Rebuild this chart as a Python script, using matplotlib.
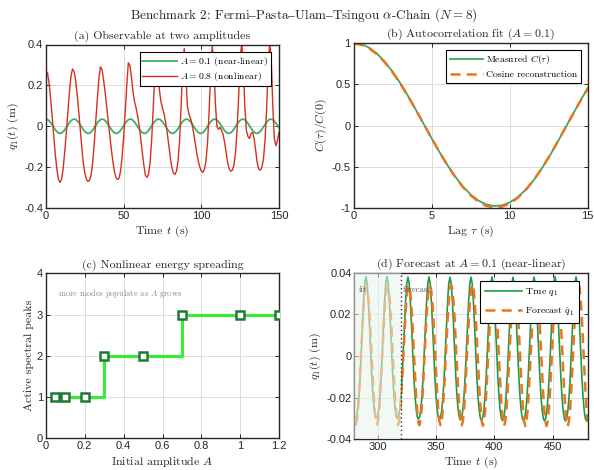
import numpy as np
import matplotlib
matplotlib.use("Agg")
import matplotlib.pyplot as plt
from matplotlib.ticker import FuncFormatter

plt.rcParams["mathtext.fontset"] = "cm"
plt.rcParams["axes.unicode_minus"] = False

SERIF = ["cmr10", "DejaVu Serif"]
SANS = ["Liberation Sans", "DejaVu Sans"]

# ---------------- data ----------------
# (a) q1(t) at two amplitudes
t_lin = np.linspace(0.0, 150.83, 151)
q_lin = [
    0.035, 0.0329, 0.0268, 0.0175, 0.0061, -0.0061, -0.0175, -0.0268, -0.0329,
    -0.035, -0.0329, -0.0268, -0.0175, -0.0061, 0.0061, 0.0175, 0.0268, 0.0329,
    0.035, 0.0329, 0.0268, 0.0175, 0.0061, -0.0061, -0.0175, -0.0268, -0.0329,
    -0.035, -0.0329, -0.0268, -0.0175, -0.0061, 0.0061, 0.0175, 0.0268, 0.0329,
    0.035, 0.0329, 0.0268, 0.0175, 0.0061, -0.0061, -0.0175, -0.0268, -0.0329,
    -0.035, -0.0329, -0.0268, -0.0175, -0.0061, 0.0061, 0.0175, 0.0268, 0.0329,
    0.035, 0.0329, 0.0268, 0.0175, 0.0061, -0.0061, -0.0175, -0.0268, -0.0329,
    -0.035, -0.0329, -0.0268, -0.0175, -0.0061, 0.0061, 0.0175, 0.0268, 0.0329,
    0.035, 0.0329, 0.0268, 0.0175, 0.0061, -0.0061, -0.0175, -0.0268, -0.0329,
    -0.035, -0.0329, -0.0268, -0.0175, -0.0061, 0.0061, 0.0175, 0.0268, 0.0329,
    0.035, 0.0329, 0.0268, 0.0175, 0.0061, -0.0061, -0.0175, -0.0268, -0.0329,
    -0.035, -0.0329, -0.0268, -0.0175, -0.0061, 0.0061, 0.0175, 0.0268, 0.0329,
    0.035, 0.0329, 0.0268, 0.0175, 0.0061, -0.0061, -0.0175, -0.0268, -0.0329,
    -0.035, -0.0329, -0.0268, -0.0175, -0.0061, 0.0061, 0.0175, 0.0268, 0.0329,
    0.035, 0.0329, 0.0268, 0.0175, 0.0061, -0.0061, -0.0175, -0.0268, -0.0329,
    -0.035, -0.0329, -0.0268, -0.0175, -0.0061, 0.0061, 0.0175, 0.0268, 0.0329,
    0.035, 0.0329, 0.0268, 0.0175, 0.0061, -0.0061, -0.0175,
]
t_nl = np.arange(0, 151)
q_nl = [
    0.27, 0.26, 0.21, 0.135, 0.045, -0.05, -0.14, -0.21, -0.26, -0.275,
    -0.26, -0.21, -0.13, -0.04, 0.06, 0.16, 0.24, 0.28, 0.27, 0.23,
    0.16, 0.08, -0.01, -0.10, -0.18, -0.23, -0.26, -0.27, -0.265, -0.24,
    -0.18, -0.09, 0.02, 0.13, 0.23, 0.29, 0.28, 0.23, 0.17, 0.10,
    0.03, -0.04, -0.11, -0.17, -0.22, -0.25, -0.26, -0.255, -0.22, -0.15,
    -0.05, 0.07, 0.20, 0.31, 0.30, 0.24, 0.17, 0.12, 0.09, 0.05,
    0.00, -0.06, -0.13, -0.19, -0.24, -0.25, -0.235, -0.18, -0.07, 0.08,
    0.24, 0.34, 0.30, 0.18, 0.12, 0.09, 0.06, 0.02, -0.03, -0.09,
    -0.15, -0.20, -0.23, -0.235, -0.22, -0.17, -0.07, 0.10, 0.30, 0.38,
    0.26, 0.10, 0.06, 0.04, 0.01, -0.03, -0.08, -0.13, -0.17, -0.20,
    -0.22, -0.225, -0.21, -0.17, -0.08, 0.07, 0.26, 0.39, 0.32, 0.12,
    0.00, -0.015, -0.005, -0.02, -0.04, -0.08, -0.13, -0.18, -0.21, -0.22,
    -0.215, -0.19, -0.13, -0.02, 0.14, 0.33, 0.41, 0.30, 0.10, -0.02,
    -0.05, -0.06, -0.035, -0.03, -0.06, -0.12, -0.18, -0.21, -0.215, -0.20,
    -0.16, -0.07, 0.08, 0.28, 0.41, 0.33, 0.10, -0.06, -0.095, -0.07,
    -0.03,
]

# (b) normalised autocorrelation and its cosine reconstruction
lag = np.linspace(0.0, 15.0, 31)
c_meas = [
    1.000, 0.985, 0.941, 0.869, 0.771, 0.650, 0.510, 0.354, 0.188, 0.017,
    -0.154, -0.318, -0.473, -0.613, -0.735, -0.833, -0.907, -0.953, -0.972,
    -0.965, -0.930, -0.868, -0.781, -0.670, -0.537, -0.387, -0.224, -0.053,
    0.119, 0.289, 0.452,
]
c_fit = [
    0.990, 0.975, 0.932, 0.861, 0.764, 0.644, 0.505, 0.352, 0.187, 0.017,
    -0.153, -0.319, -0.475, -0.618, -0.742, -0.843, -0.920, -0.970, -0.989,
    -0.980, -0.943, -0.877, -0.786, -0.670, -0.534, -0.384, -0.221, -0.052,
    0.118, 0.286, 0.444,
]

# (c) number of active spectral peaks vs. initial amplitude
amp = [0.05, 0.1, 0.2, 0.3, 0.5, 0.7, 1.0, 1.2]
n_peaks = [1, 1, 1, 2, 2, 3, 3, 3]

# (d) true trajectory and forecast at A = 0.1
t_true = np.arange(280, 481)
q_true = [
    -0.0289, -0.0300, -0.0289, -0.0253, -0.0190, -0.0097, 0.0021, 0.0150, 0.0267, 0.0350,
    0.0380, 0.0350, 0.0267, 0.0150, 0.0021, -0.0097, -0.0190, -0.0253, -0.0289, -0.0298, -0.0289, -0.0253, -0.0190, -0.0097, 0.0021, 0.0150, 0.0267, 0.0350,
    0.0381, 0.0351, 0.0268, 0.0150, 0.0021, -0.0097, -0.0190, -0.0253, -0.0290, -0.0300, -0.0290, -0.0253, -0.0190, -0.0097, 0.0021, 0.0150, 0.0267, 0.0350,
    0.0379, 0.0350, 0.0267, 0.0150, 0.0021, -0.0098, -0.0191, -0.0255, -0.0292, -0.0303, -0.0292, -0.0255, -0.0191, -0.0098, 0.0021, 0.0150, 0.0267, 0.0350,
    0.0380, 0.0350, 0.0267, 0.0150, 0.0020, -0.0099, -0.0193, -0.0257, -0.0294, -0.0305, -0.0294, -0.0257, -0.0193, -0.0099, 0.0020, 0.0150, 0.0267, 0.0350,
    0.0378, 0.0349, 0.0266, 0.0149, 0.0020, -0.0099, -0.0194, -0.0259, -0.0296, -0.0307, -0.0296, -0.0259, -0.0194, -0.0099, 0.0020, 0.0149, 0.0266, 0.0349,
    0.0379, 0.0350, 0.0267, 0.0149, 0.0019, -0.0100, -0.0195, -0.0260, -0.0298, -0.0309, -0.0298, -0.0260, -0.0195, -0.0100, 0.0019, 0.0149, 0.0267, 0.0350,
    0.0380, 0.0350, 0.0267, 0.0149, 0.0019, -0.0101, -0.0196, -0.0262, -0.0300, -0.0311, -0.0300, -0.0262, -0.0196, -0.0101, 0.0019, 0.0149, 0.0267, 0.0350,
    0.0378, 0.0349, 0.0266, 0.0148, 0.0018, -0.0101, -0.0196, -0.0262, -0.0300, -0.0311, -0.0300, -0.0262, -0.0196, -0.0101, 0.0018, 0.0148, 0.0266, 0.0349,
    0.0379, 0.0350, 0.0267, 0.0149, 0.0018, -0.0101, -0.0196, -0.0262, -0.0300, -0.0312, -0.0300, -0.0262, -0.0196, -0.0101, 0.0018, 0.0149, 0.0267, 0.0350,
    0.0381, 0.0351, 0.0267, 0.0149, 0.0018, -0.0102, -0.0197, -0.0263, -0.0301, -0.0312, -0.0301, -0.0263, -0.0197, -0.0102, 0.0018, 0.0149, 0.0267, 0.0350,
    0.0380, 0.0350, 0.0267, 0.0149, 0.0018, -0.0101, -0.0196, -0.0262, -0.0300, -0.0312, -0.0300,
]
t_fore = np.linspace(279.18, 480.06, 200)
q_fore = [
    -0.0252, -0.0310, -0.0330, -0.0310, -0.0252, -0.0163, -0.0053, 0.0063, 0.0173, 0.0262, 0.0315,
    0.0330, 0.0315, 0.0262, 0.0173, 0.0063, -0.0053, -0.0163, -0.0252, -0.0310, -0.0330, -0.0310, -0.0252, -0.0163, -0.0053, 0.0063, 0.0173, 0.0262, 0.0315,
    0.0332, 0.0316, 0.0262, 0.0173, 0.0063, -0.0053, -0.0163, -0.0252, -0.0310, -0.0331, -0.0310, -0.0252, -0.0163, -0.0053, 0.0063, 0.0173, 0.0263, 0.0318,
    0.0338, 0.0320, 0.0263, 0.0173, 0.0063, -0.0053, -0.0163, -0.0252, -0.0311, -0.0332, -0.0311, -0.0252, -0.0163, -0.0053, 0.0063, 0.0174, 0.0264, 0.0320,
    0.0340, 0.0320, 0.0264, 0.0174, 0.0063, -0.0053, -0.0163, -0.0253, -0.0312, -0.0333, -0.0312, -0.0253, -0.0163, -0.0053, 0.0063, 0.0174, 0.0264, 0.0321,
    0.0342, 0.0321, 0.0264, 0.0174, 0.0063, -0.0053, -0.0164, -0.0253, -0.0312, -0.0334, -0.0312, -0.0253, -0.0164, -0.0053, 0.0064, 0.0175, 0.0265, 0.0322,
    0.0344, 0.0322, 0.0265, 0.0175, 0.0064, -0.0053, -0.0164, -0.0254, -0.0313, -0.0335, -0.0313, -0.0254, -0.0164, -0.0053, 0.0064, 0.0176, 0.0266, 0.0324,
    0.0346, 0.0324, 0.0266, 0.0176, 0.0064, -0.0053, -0.0164, -0.0254, -0.0313, -0.0335, -0.0313, -0.0254, -0.0164, -0.0053, 0.0065, 0.0177, 0.0268, 0.0326,
    0.0349, 0.0326, 0.0268, 0.0177, 0.0065, -0.0054, -0.0165, -0.0255, -0.0314, -0.0336, -0.0314, -0.0255, -0.0165, -0.0054, 0.0065, 0.0178, 0.0269, 0.0328,
    0.0351, 0.0328, 0.0269, 0.0178, 0.0065, -0.0054, -0.0165, -0.0255, -0.0314, -0.0336, -0.0314, -0.0255, -0.0165, -0.0054, 0.0066, 0.0179, 0.0270, 0.0329,
    0.0352, 0.0329, 0.0270, 0.0179, 0.0066, -0.0054, -0.0165, -0.0256, -0.0315, -0.0337, -0.0315, -0.0256, -0.0165, -0.0054, 0.0066, 0.0179, 0.0270, 0.0330,
    0.0353, 0.0330, 0.0270, 0.0179, 0.0066, -0.0054, -0.0165, -0.0256, -0.0315,
]
fit_end = 320

# ---------------- style ----------------
AX_COL = "#262626"
GRID_COL = "#dcdcdc"
GREEN_A = "#3bb06a"
RED_A = "#d4301f"
GREEN_B = "#3da85e"
ORANGE = "#e8761c"
STAIR = "#33ee33"
STAIR_EDGE = "#1d7a34"
GREEN_D = "#1f9a48"


def fmt_g(v, pos):
    return "%g" % round(v, 6)


def style_axes(ax):
    ax.grid(True, color=GRID_COL, linewidth=0.7)
    ax.set_axisbelow(True)
    for s in ax.spines.values():
        s.set_color(AX_COL)
        s.set_linewidth(1.0)
    ax.tick_params(direction="in", length=3, width=0.7, color=AX_COL,
                   top=True, right=True, labelsize=8, labelcolor=AX_COL, pad=2)
    for lab in ax.get_xticklabels() + ax.get_yticklabels():
        lab.set_fontfamily(SANS)
    ax.xaxis.set_major_formatter(FuncFormatter(fmt_g))
    ax.yaxis.set_major_formatter(FuncFormatter(fmt_g))


def labels(ax, title, xl, yl):
    ax.set_title(title, fontsize=8.6, family=SERIF, color=AX_COL, pad=4)
    ax.set_xlabel(xl, fontsize=8.6, family=SERIF, color=AX_COL, labelpad=2)
    ax.set_ylabel(yl, fontsize=8.6, family=SERIF, color=AX_COL, labelpad=2)


def legend(ax, **kw):
    opts = dict(prop={"family": SERIF, "size": 7}, fancybox=False,
                framealpha=1, edgecolor="black", borderpad=0.3,
                labelspacing=0.2, handletextpad=0.3, borderaxespad=0.7)
    opts.update(kw)
    leg = ax.legend(**opts)
    leg.get_frame().set_linewidth(0.8)
    return leg


W, H = 594, 470
fig = plt.figure(figsize=(W / 100, H / 100), dpi=100)


def add_axes(l, t, r, b):
    return fig.add_axes([l / W, 1 - b / H, (r - l) / W, (b - t) / H])


ax_a = add_axes(46, 44.5, 279, 208)
ax_b = add_axes(353.5, 42.7, 587.7, 208.3)
ax_c = add_axes(45.7, 273.3, 279.3, 438.3)
ax_d = add_axes(354.3, 272.7, 587.7, 439.3)

fig.text(0.512, 1 - 15 / H,
         r"Benchmark 2: Fermi$–$Pasta$–$Ulam$–$Tsingou $\alpha$-Chain $(N = 8)$",
         ha="center", va="center", fontsize=9.5, family=SERIF, color=AX_COL)

# (a)
ax_a.plot(t_lin, q_lin, color=GREEN_A, lw=1.3, label=r"$A = 0.1$ (near-linear)")
ax_a.plot(t_nl, q_nl, color=RED_A, lw=1.0, label=r"$A = 0.8$ (nonlinear)")
ax_a.set_xlim(0, 150)
ax_a.set_ylim(-0.4, 0.4)
ax_a.set_xticks([0, 50, 100, 150])
ax_a.set_yticks([-0.4, -0.2, 0, 0.2, 0.4])
style_axes(ax_a)
labels(ax_a, "(a) Observable at two amplitudes", r"Time $t$ (s)", r"$q_1(t)$ (m)")
legend(ax_a, loc="upper right", handlelength=3.6, borderaxespad=0.8)

# (b)
ax_b.plot(lag, c_meas, color=GREEN_B, lw=1.3, label=r"Measured $C(\tau)$")
ax_b.plot(lag, c_fit, color=ORANGE, lw=1.8, ls=(0, (4, 2.5)), label="Cosine reconstruction")
ax_b.set_xlim(0, 15)
ax_b.set_ylim(-1, 1)
ax_b.set_xticks([0, 5, 10, 15])
ax_b.set_yticks([-1, -0.5, 0, 0.5, 1])
style_axes(ax_b)
labels(ax_b, r"(b) Autocorrelation fit $(A = 0.1)$", r"Lag $\tau$ (s)", r"$C(\tau)/C(0)$")
legend(ax_b, loc="upper right", handlelength=3.4, labelspacing=0.4, borderpad=0.4)

# (c)
ax_c.plot(amp, n_peaks, drawstyle="steps-post", color=STAIR, lw=2.2, zorder=2)
ax_c.plot(amp, n_peaks, ls="none", marker="s", ms=5.5, mfc="white",
          mec=STAIR_EDGE, mew=1.8, zorder=3)
ax_c.text(0.065, 3.5, r"more modes populate as $A$ grows", fontsize=6.1,
          family=SERIF, color="#8a8a8a", va="center")
ax_c.set_xlim(0, 1.2)
ax_c.set_ylim(0, 4)
ax_c.set_xticks([0, 0.2, 0.4, 0.6, 0.8, 1.0, 1.2])
ax_c.set_yticks([0, 1, 2, 3, 4])
style_axes(ax_c)
labels(ax_c, "(c) Nonlinear energy spreading", r"Initial amplitude $A$", "Active spectral peaks")

# (d)
ax_d.plot(t_true, q_true, color=GREEN_D, lw=1.2, label=r"True $q_1$", zorder=2)
ax_d.plot(t_fore, q_fore, color=ORANGE, lw=1.8, ls=(0, (4, 2.5)),
          label=r"Forecast $\hat{q}_1$", zorder=2)
ax_d.axvspan(280, fit_end, color="#e9f3eb", alpha=0.55, lw=0, zorder=3)
ax_d.axvline(fit_end, color="#333333", lw=1.0, ls=(0, (1, 2)), zorder=4)
ax_d.text(283.5, 0.0317, "fit", fontsize=6, family=SERIF, color="#555555", va="center", zorder=5)
ax_d.text(321.5, 0.0317, "forecast", fontsize=6, family=SERIF, color="#555555", va="center", zorder=5)
ax_d.set_xlim(280, 480)
ax_d.set_ylim(-0.04, 0.04)
ax_d.set_xticks([300, 350, 400, 450])
ax_d.set_yticks([-0.04, -0.02, 0, 0.02, 0.04])
style_axes(ax_d)
labels(ax_d, r"(d) Forecast at $A = 0.1$ (near-linear)", r"Time $t$ (s)", r"$q_1(t)$ (m)")
leg = legend(ax_d, loc="upper right", handlelength=3.8, borderpad=0.5,
             labelspacing=0.7, borderaxespad=0.9)
leg.set_zorder(10)

fig.savefig("out.png", dpi=100)
